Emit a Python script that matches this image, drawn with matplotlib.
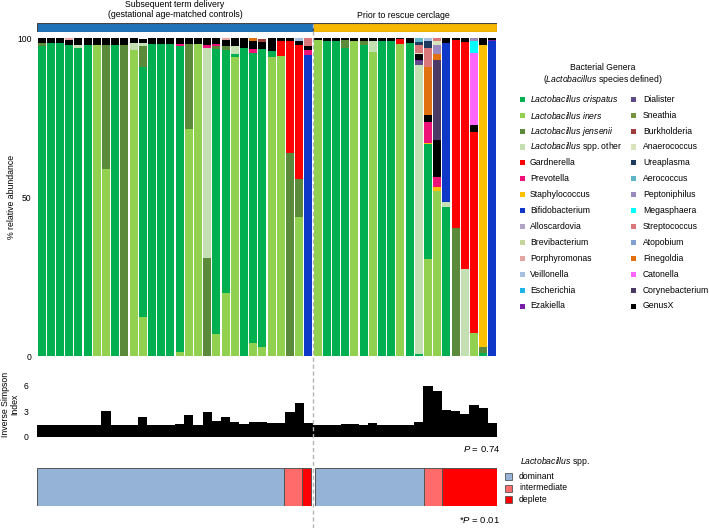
import matplotlib
matplotlib.use("Agg")
import matplotlib.pyplot as plt
import numpy as np
from matplotlib import transforms
from matplotlib.lines import Line2D
from matplotlib.patches import Rectangle

plt.rcParams["font.family"] = ["Liberation Sans", "DejaVu Sans"]
plt.rcParams["mathtext.fontset"] = "custom"
plt.rcParams["mathtext.rm"] = "Liberation Sans"
plt.rcParams["mathtext.it"] = "Liberation Sans:italic"

# ---- data ----------------------------------------------------------------
n_term = 30      # subsequent term delivery (controls)
n_rescue = 20    # prior to rescue cerclage

crispatus = [97.5, 98.5, 98.5, 98, 97, 98, 0, 0, 98, 0,
             0, 78.6, 98.2, 98.2, 98.2, 96.5, 0, 0, 0, 89.5,
             76.5, 0.8, 96.8, 91.5, 93.7, 2, 0, 0, 0, 0,
             0, 99.3, 99.3, 96.8, 0, 98, 0, 99, 99.2, 0,
             98.5, 0.5, 36.4, 0, 47, 0, 0, 0, 0.8, 0]
iners = [0, 0, 0, 0, 0, 0, 98, 59, 0, 0,
         96.4, 12.4, 0, 0, 0, 1.2, 71.4, 98.2, 0, 7,
         19.7, 94.2, 0, 4, 2.8, 94, 94.3, 0, 43.9, 0,
         99.5, 0, 0, 0, 99.3, 0, 95.8, 0, 0, 98.2,
         0, 0, 30.4, 52, 0, 0, 0, 7.1, 0, 0]
jensenii = [1, 0, 0, 0, 0, 0, 0, 39, 0, 98,
            0, 6.6, 0, 0, 0, 0, 26.8, 0, 31, 1.2,
            1.5, 0, 0, 0, 0, 0, 0, 63.8, 11.7, 0,
            0, 0, 0, 2.7, 0, 1.3, 0, 0, 0, 0,
            0, 0, 0, 0, 0, 40.2, 0, 0, 2.1, 0]
genus_x = [1.5, 1.5, 1.5, 1.5, 2, 2, 2, 2, 2, 2,
           1.4, 1.4, 1.8, 1.8, 1.8, 1.8, 1.8, 1.8, 2.2, 1.8,
           1.8, 2.4, 3.2, 2.8, 2.2, 4, 1, 1, 1.2, 1.5,
           0.5, 0.7, 0.7, 0.5, 0.7, 0.7, 0.7, 1, 0.8, 0.3,
           1.5, 1.9, 2.2, 11.5, 1.4, 0.5, 1.1, 2.1, 2.1, 0.5]
# sparse genera: {sample index: % abundance}
lacto_other = {4: 1, 10: 2.2, 11: 0.9, 18: 66, 21: 2.6, 36: 3.5, 41: 91.2, 44: 1.6, 46: 27.3}
gardnerella = {26: 4.7, 27: 35.2, 28: 42.4, 39: 1.5, 45: 59.3, 46: 71.6, 47: 63.5}
bifidobacterium = {29: 94.7, 44: 50, 49: 99}
staphylococcus = {42: 0.3, 43: 1.1, 48: 95}
prevotella = {15: 0.5, 18: 0.8, 19: 0.5, 23: 1, 29: 1.5, 42: 6.5, 43: 3.3}
porphyromonas = {3: 0.5, 20: 0.5}
burkholderia = {24: 1}
streptococcus = {29: 2.3, 41: 2.4, 42: 5.8, 43: 0.8}
finegoldia = {23: 0.7, 42: 15.2, 43: 2.1}
veillonella = {28: 0.8, 42: 1}
dialister = {41: 1}
ezakiella = {41: 0.5, 49: 0.5}
anaerococcus = {41: 0.4, 43: 1.4}
ureaplasma = {41: 1, 42: 2.2}
aerococcus = {41: 1.1}
corynebacterium = {43: 25.2}
peptoniphilus = {43: 2.6, 47: 1}
catonella = {47: 22.6}
megasphaera = {47: 3.7}
empty = {}

inv_simpson = [1.4, 1.4, 1.4, 1.4, 1.4, 1.4, 1.4, 3.0, 1.4, 1.4,
               1.4, 2.3, 1.4, 1.4, 1.4, 1.5, 2.6, 1.4, 2.9, 1.9,
               2.4, 1.7, 1.5, 1.75, 1.7, 1.6, 1.6, 2.9, 4.0, 1.6,
               1.4, 1.4, 1.4, 1.5, 1.5, 1.45, 1.6, 1.4, 1.4, 1.4,
               1.4, 1.8, 6.0, 5.4, 3.2, 3.0, 2.7, 3.8, 3.4, 1.6]

lacto_states = ["dominant", "intermediate", "deplete"]
lacto_term = [27, 2, 1]
lacto_rescue = [12, 2, 6]

# legend order (two columns of 14)
genera = [
    ("$\\it{Lactobacillus\\ crispatus}$", crispatus, "#00b050"),
    ("$\\it{Lactobacillus\\ iners}$", iners, "#92d050"),
    ("$\\it{Lactobacillus\\ jensenii}$", jensenii, "#5a8a3a"),
    ("$\\it{Lactobacillus}$ spp. other", lacto_other, "#c4e0b2"),
    ("Gardnerella", gardnerella, "#ff0000"),
    ("Prevotella", prevotella, "#ee1177"),
    ("Staphylococcus", staphylococcus, "#ffc000"),
    ("Bifidobacterium", bifidobacterium, "#1038c8"),
    ("Alloscardovia", empty, "#b3a2c7"),
    ("Brevibacterium", empty, "#c3d69b"),
    ("Porphyromonas", porphyromonas, "#e6a5a5"),
    ("Veillonella", veillonella, "#a6bfe0"),
    ("Escherichia", empty, "#1fb4e8"),
    ("Ezakiella", ezakiella, "#7a1fa8"),
    ("Dialister", dialister, "#5f4b8b"),
    ("Sneathia", empty, "#77933c"),
    ("Burkholderia", burkholderia, "#a0403c"),
    ("Anaerococcus", anaerococcus, "#d7e4bc"),
    ("Ureaplasma", ureaplasma, "#1f3a5f"),
    ("Aerococcus", aerococcus, "#5fb4c8"),
    ("Peptoniphilus", peptoniphilus, "#9a88c0"),
    ("Megasphaera", megasphaera, "#00ffff"),
    ("Streptococcus", streptococcus, "#d9777a"),
    ("Atopobium", empty, "#7fa0d0"),
    ("Finegoldia", finegoldia, "#e07010"),
    ("Catonella", catonella, "#ff66ff"),
    ("Corynebacterium", corynebacterium, "#4b3a66"),
    ("GenusX", genus_x, "#000000"),
]
# bottom-to-top order used when stacking
stack_order = [1, 0, 2, 3, 4, 7, 6, 5, 14, 13, 27, 25, 21, 26, 24, 20, 17,
               22, 10, 16, 18, 19, 11, 12, 23, 8, 9, 15]

# ---- layout ---------------------------------------------------------------
W, H = 709, 528
n = n_term + n_rescue
x = np.arange(n)


def box(left, top, right, bottom):
    return [left / W, 1 - bottom / H, (right - left) / W, (bottom - top) / H]


def as_array(vals):
    if isinstance(vals, dict):
        arr = np.zeros(n)
        for i, v in vals.items():
            arr[i] = v
        return arr
    return np.asarray(vals, dtype=float)


fig = plt.figure(figsize=(W / 100, H / 100), dpi=100)

# stacked composition
ax = fig.add_axes(box(37, 38.3, 497, 356))
bottom = np.zeros(n)
for k in stack_order:
    label, vals, color = genera[k]
    v = as_array(vals)
    ax.bar(x, v, bottom=bottom, width=0.86, color=color, linewidth=0)
    bottom += v
ax.set_xlim(-0.5, n - 0.5)
ax.set_ylim(0, 100)
ax.set_yticks([0, 50, 100])
ax.tick_params(axis="y", length=0, labelsize=6.2, pad=4)
ax.set_xticks([])
for s in ax.spines.values():
    s.set_visible(False)
fig.text(12 / W, 1 - 197 / H, "% relative abundance", rotation=90,
         ha="center", va="center", fontsize=6.3)

# group header bars
hax = fig.add_axes(box(37, 22.7, 497, 31.7))
hax.barh(0, [n_term, n_rescue], left=[-0.5, n_term - 0.5], height=1,
         color=["#1f72b8", "#f5b700"], edgecolor="#444444", linewidth=0.8)
hax.set_xlim(-0.5, n - 0.5)
hax.set_ylim(-0.5, 0.5)
hax.axis("off")
fig.text(175 / W, 1 - 4.5 / H, "Subsequent term delivery", ha="center", va="center", fontsize=6.3)
fig.text(175 / W, 1 - 14.5 / H, "(gestational age-matched controls)", ha="center", va="center", fontsize=6.3)
fig.text(403 / W, 1 - 15 / H, "Prior to rescue cerclage", ha="center", va="center", fontsize=6.3)

# inverse Simpson index
sax = fig.add_axes(box(37, 373, 497, 437))
sax.bar(x, inv_simpson, width=1.0, color="black", linewidth=0)
sax.set_xlim(-0.5, n - 0.5)
sax.set_ylim(0, 7.5)
sax.set_yticks([0, 3, 6])
sax.set_xticks([])
sax.tick_params(axis="y", length=0, labelsize=6.2, pad=6)
for s in sax.spines.values():
    s.set_visible(False)
fig.text(10 / W, 1 - 404 / H, "Inverse Simpson\nIndex", rotation=90,
         ha="center", va="center", fontsize=6.3, linespacing=1.1)
fig.text(500 / W, 1 - 449 / H, "$\\it{P}$ = 0.74", ha="right", va="center", fontsize=6.8)

# Lactobacillus state bar
lax = fig.add_axes(box(37, 467.7, 497, 505.7))
state_colors = ["#95b3d7", "#ff6b6b", "#ff0000"]
gap = 0.2
for counts, start, stop in [(lacto_term, -0.5, n_term - 0.5 - gap),
                            (lacto_rescue, n_term - 0.5 + gap, n - 0.5)]:
    counts = np.asarray(counts, dtype=float)
    widths = counts / counts.sum() * (stop - start)
    lefts = start + np.concatenate([[0], np.cumsum(widths)[:-1]])
    lax.barh(0.5, widths, left=lefts, height=1, color=state_colors,
             edgecolor="#555555", linewidth=0.7)
lax.set_xlim(-0.5, n - 0.5)
lax.set_ylim(0, 1)
lax.axis("off")
fig.text(500 / W, 1 - 520 / H, "*$\\it{P}$ = 0.01", ha="right", va="center", fontsize=6.8)

# lactobacillus state legend
fig.text(520.5 / W, 1 - 461 / H, "$\\it{Lactobacillus}$ spp.", ha="left", va="center", fontsize=6.2)
for i, (name, col) in enumerate(zip(lacto_states, state_colors)):
    yc = 476.7 + 11.3 * i
    fig.add_artist(Rectangle((505 / W, 1 - (yc + 3.5) / H), 7 / W, 7 / H,
                             transform=fig.transFigure, facecolor=col,
                             edgecolor="#555555", linewidth=0.6))
    fig.text(519 / W, 1 - yc / H, name, ha="left", va="center", fontsize=6.2)

# genus legend
fig.text(603 / W, 1 - 68 / H, "Bacterial Genera", ha="center", va="center", fontsize=6.2)
fig.text(603 / W, 1 - 80 / H, "($\\it{Lactobacillus}$ species defined)", ha="center", va="center", fontsize=6.2)
for k, (label, vals, color) in enumerate(genera):
    col, row = divmod(k, 14)
    yc = 99.3 + 15.9 * row
    sx = 520 if col == 0 else 631
    tx = 530 if col == 0 else 643
    fig.add_artist(Rectangle((sx / W, 1 - (yc + 2.5) / H), 5 / W, 5 / H,
                             transform=fig.transFigure, facecolor=color, linewidth=0))
    fig.text(tx / W, 1 - yc / H, label, ha="left", va="center", fontsize=6.2)

# dashed divider between the two groups
trans = transforms.blended_transform_factory(ax.transData, fig.transFigure)
fig.add_artist(Line2D([n_term - 0.5, n_term - 0.5], [0, 1 - 23 / H], transform=trans,
                      color="#b5b5b5", linestyle=(0, (3, 2)), linewidth=1.0, zorder=5))

fig.savefig("out.png", dpi=100)
plt.close(fig)
